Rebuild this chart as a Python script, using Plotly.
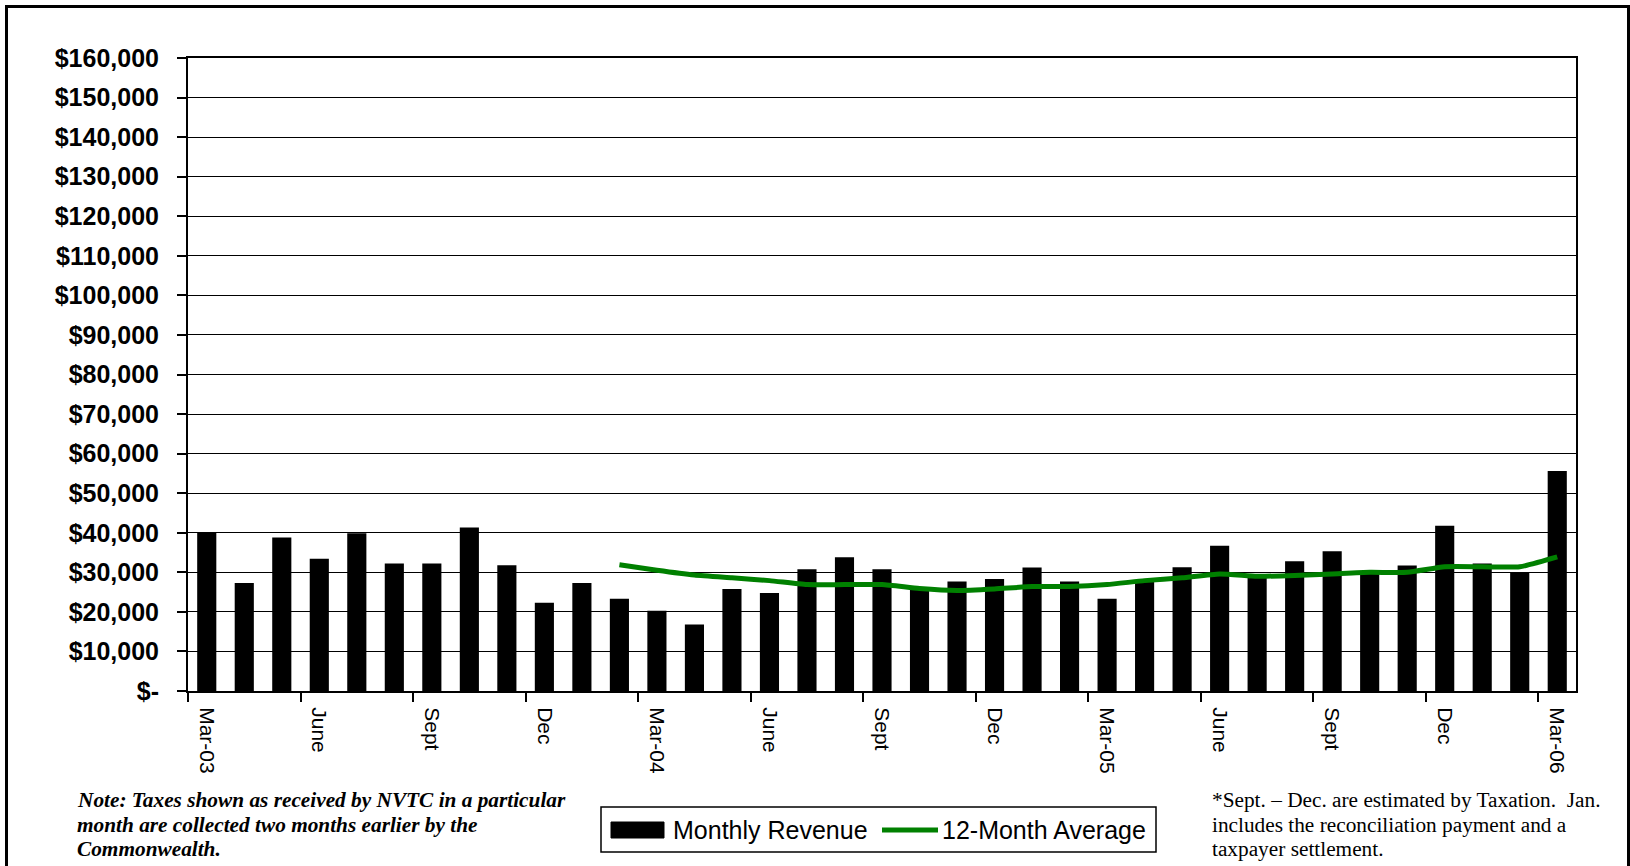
import plotly.graph_objects as go

# Monthly transit tax receipts, Mar-03 through Mar-06
months = [
    "Mar-03", "Apr-03", "May-03", "Jun-03", "Jul-03", "Aug-03", "Sep-03", "Oct-03", "Nov-03", "Dec-03",
    "Jan-04", "Feb-04", "Mar-04", "Apr-04", "May-04", "Jun-04", "Jul-04", "Aug-04", "Sep-04", "Oct-04",
    "Nov-04", "Dec-04", "Jan-05", "Feb-05", "Mar-05", "Apr-05", "May-05", "Jun-05", "Jul-05", "Aug-05",
    "Sep-05", "Oct-05", "Nov-05", "Dec-05", "Jan-06", "Feb-06", "Mar-06",
]
revenue = [
    40000, 27300, 38800, 33400, 39900, 32200, 32200, 41300, 31800, 22300,
    27300, 23300, 20300, 16800, 25800, 24800, 30800, 33800, 30800, 25800,
    27700, 28300, 31200, 27700, 23300, 28000, 31300, 36700, 29000, 32800,
    35300, 30000, 31700, 41800, 32200, 30000, 55600,
]

# 12-month moving average, available from Feb-04 onward
avg_months = months[11:]
avg_values = [
    31900, 30500, 29300, 28600, 27900, 26900, 26900, 26900, 25900, 25400,
    25800, 26400, 26400, 26900, 27900, 28600, 29600, 29000, 29200, 29600,
    30000, 30000, 31400, 31400, 31400, 33900,
]

tick_labels = ["Mar-03", "June", "Sept", "Dec", "Mar-04", "June", "Sept", "Dec",
               "Mar-05", "June", "Sept", "Dec", "Mar-06"]
y_ticks = list(range(0, 160001, 10000))
y_tick_text = ["$-"] + [f"${v:,}" for v in y_ticks[1:]]

legend_labels = ["Monthly Revenue", "12-Month Average"]
note_left_lines = [
    "Note: Taxes shown as received by NVTC in a particular",
    "month are collected two months earlier by the",
    "Commonwealth.",
]
note_right_lines = [
    "*Sept. \u2013 Dec. are estimated by Taxation.\u00a0 Jan.",
    "includes the reconciliation payment and a",
    "taxpayer settlement.",
]

W, H = 1630, 866
ML, MR, MT, MB = 188, 54, 58, 175
PW, PH = W - ML - MR, H - MT - MB


def px_x(px):
    return (px - ML) / PW


def px_y(py):
    return (H - MB - py) / PH


x_pos = list(range(len(months)))
avg_pos = [months.index(m) for m in avg_months]

SANS = "Liberation Sans, Arial, sans-serif"
SERIF = "Liberation Serif, Times New Roman, serif"

fig = go.Figure()
fig.add_trace(go.Bar(
    x=x_pos, y=revenue, name=legend_labels[0],
    marker=dict(color="black", line=dict(width=0)),
))
fig.add_trace(go.Scatter(
    x=avg_pos, y=avg_values, name=legend_labels[1], mode="lines",
    line=dict(color="#008000", width=5, shape="spline", smoothing=0.5),
))

fig.update_layout(
    width=W, height=H,
    margin=dict(l=ML, r=MR, t=MT, b=MB, autoexpand=False),
    paper_bgcolor="white", plot_bgcolor="white",
    showlegend=False, bargap=0.49,
    font=dict(family=SANS, color="black"),
)

fig.update_xaxes(
    range=[-0.5, len(months) - 0.5],
    tickmode="array", tickvals=x_pos[::3], ticktext=tick_labels,
    tickangle=90, ticks="", ticklabelstandoff=10,
    tickfont=dict(family=SANS, size=21, color="black"),
    showgrid=False, zeroline=False,
    showline=True, linecolor="black", linewidth=2, mirror=True,
    minor=dict(tickmode="array", tickvals=[p - 0.5 for p in x_pos[::3]],
               ticks="outside", ticklen=9, tickwidth=1.5, tickcolor="black",
               showgrid=False),
)
fig.update_yaxes(
    range=[0, 160000],
    tickmode="array", tickvals=y_ticks, ticktext=y_tick_text,
    ticks="outside", ticklen=9, tickwidth=1.5, tickcolor="black",
    ticklabelstandoff=13,
    tickfont=dict(family=SANS, size=25, color="black", weight="bold"),
    showgrid=True, gridcolor="black", gridwidth=1.3,
    zeroline=False,
    showline=True, linecolor="black", linewidth=2, mirror=True,
)

shapes = [
    # outer frame
    dict(type="rect", xref="paper", yref="paper",
         x0=px_x(6.5), x1=px_x(1628.5), y0=px_y(900), y1=px_y(6.5),
         line=dict(color="black", width=3), fillcolor="rgba(0,0,0,0)", layer="above"),
    # legend box
    dict(type="rect", xref="paper", yref="paper",
         x0=px_x(601), x1=px_x(1156), y0=px_y(852), y1=px_y(807),
         line=dict(color="black", width=1.5), fillcolor="white"),
    # legend swatch: bars
    dict(type="rect", xref="paper", yref="paper",
         x0=px_x(611), x1=px_x(664), y0=px_y(838), y1=px_y(822),
         line=dict(color="black", width=1), fillcolor="black"),
    # legend swatch: line
    dict(type="line", xref="paper", yref="paper",
         x0=px_x(882), x1=px_x(938), y0=px_y(830), y1=px_y(830),
         line=dict(color="#008000", width=5)),
]

annotations = [
    dict(text=legend_labels[0], xref="paper", yref="paper", x=px_x(671), y=px_y(830),
         xanchor="left", yanchor="middle", showarrow=False,
         font=dict(family=SANS, size=25, color="black")),
    dict(text=legend_labels[1], xref="paper", yref="paper", x=px_x(940), y=px_y(830),
         xanchor="left", yanchor="middle", showarrow=False,
         font=dict(family=SANS, size=25, color="black")),
]

# footnotes, one annotation per line for tight line spacing
note_rows = [800, 825, 849]
for row, line in zip(note_rows, note_left_lines):
    annotations.append(dict(
        text=line, xref="paper", yref="paper", x=px_x(75), y=px_y(row),
        xanchor="left", yanchor="middle", align="left", showarrow=False,
        font=dict(family=SERIF, size=21.3, color="black", weight="bold", style="italic")))
for row, line in zip(note_rows, note_right_lines):
    annotations.append(dict(
        text=line, xref="paper", yref="paper", x=px_x(1210), y=px_y(row),
        xanchor="left", yanchor="middle", align="left", showarrow=False,
        font=dict(family=SERIF, size=21.3, color="black")))

fig.update_layout(shapes=shapes, annotations=annotations)

fig.write_html("out.html", config={"displayModeBar": False})
